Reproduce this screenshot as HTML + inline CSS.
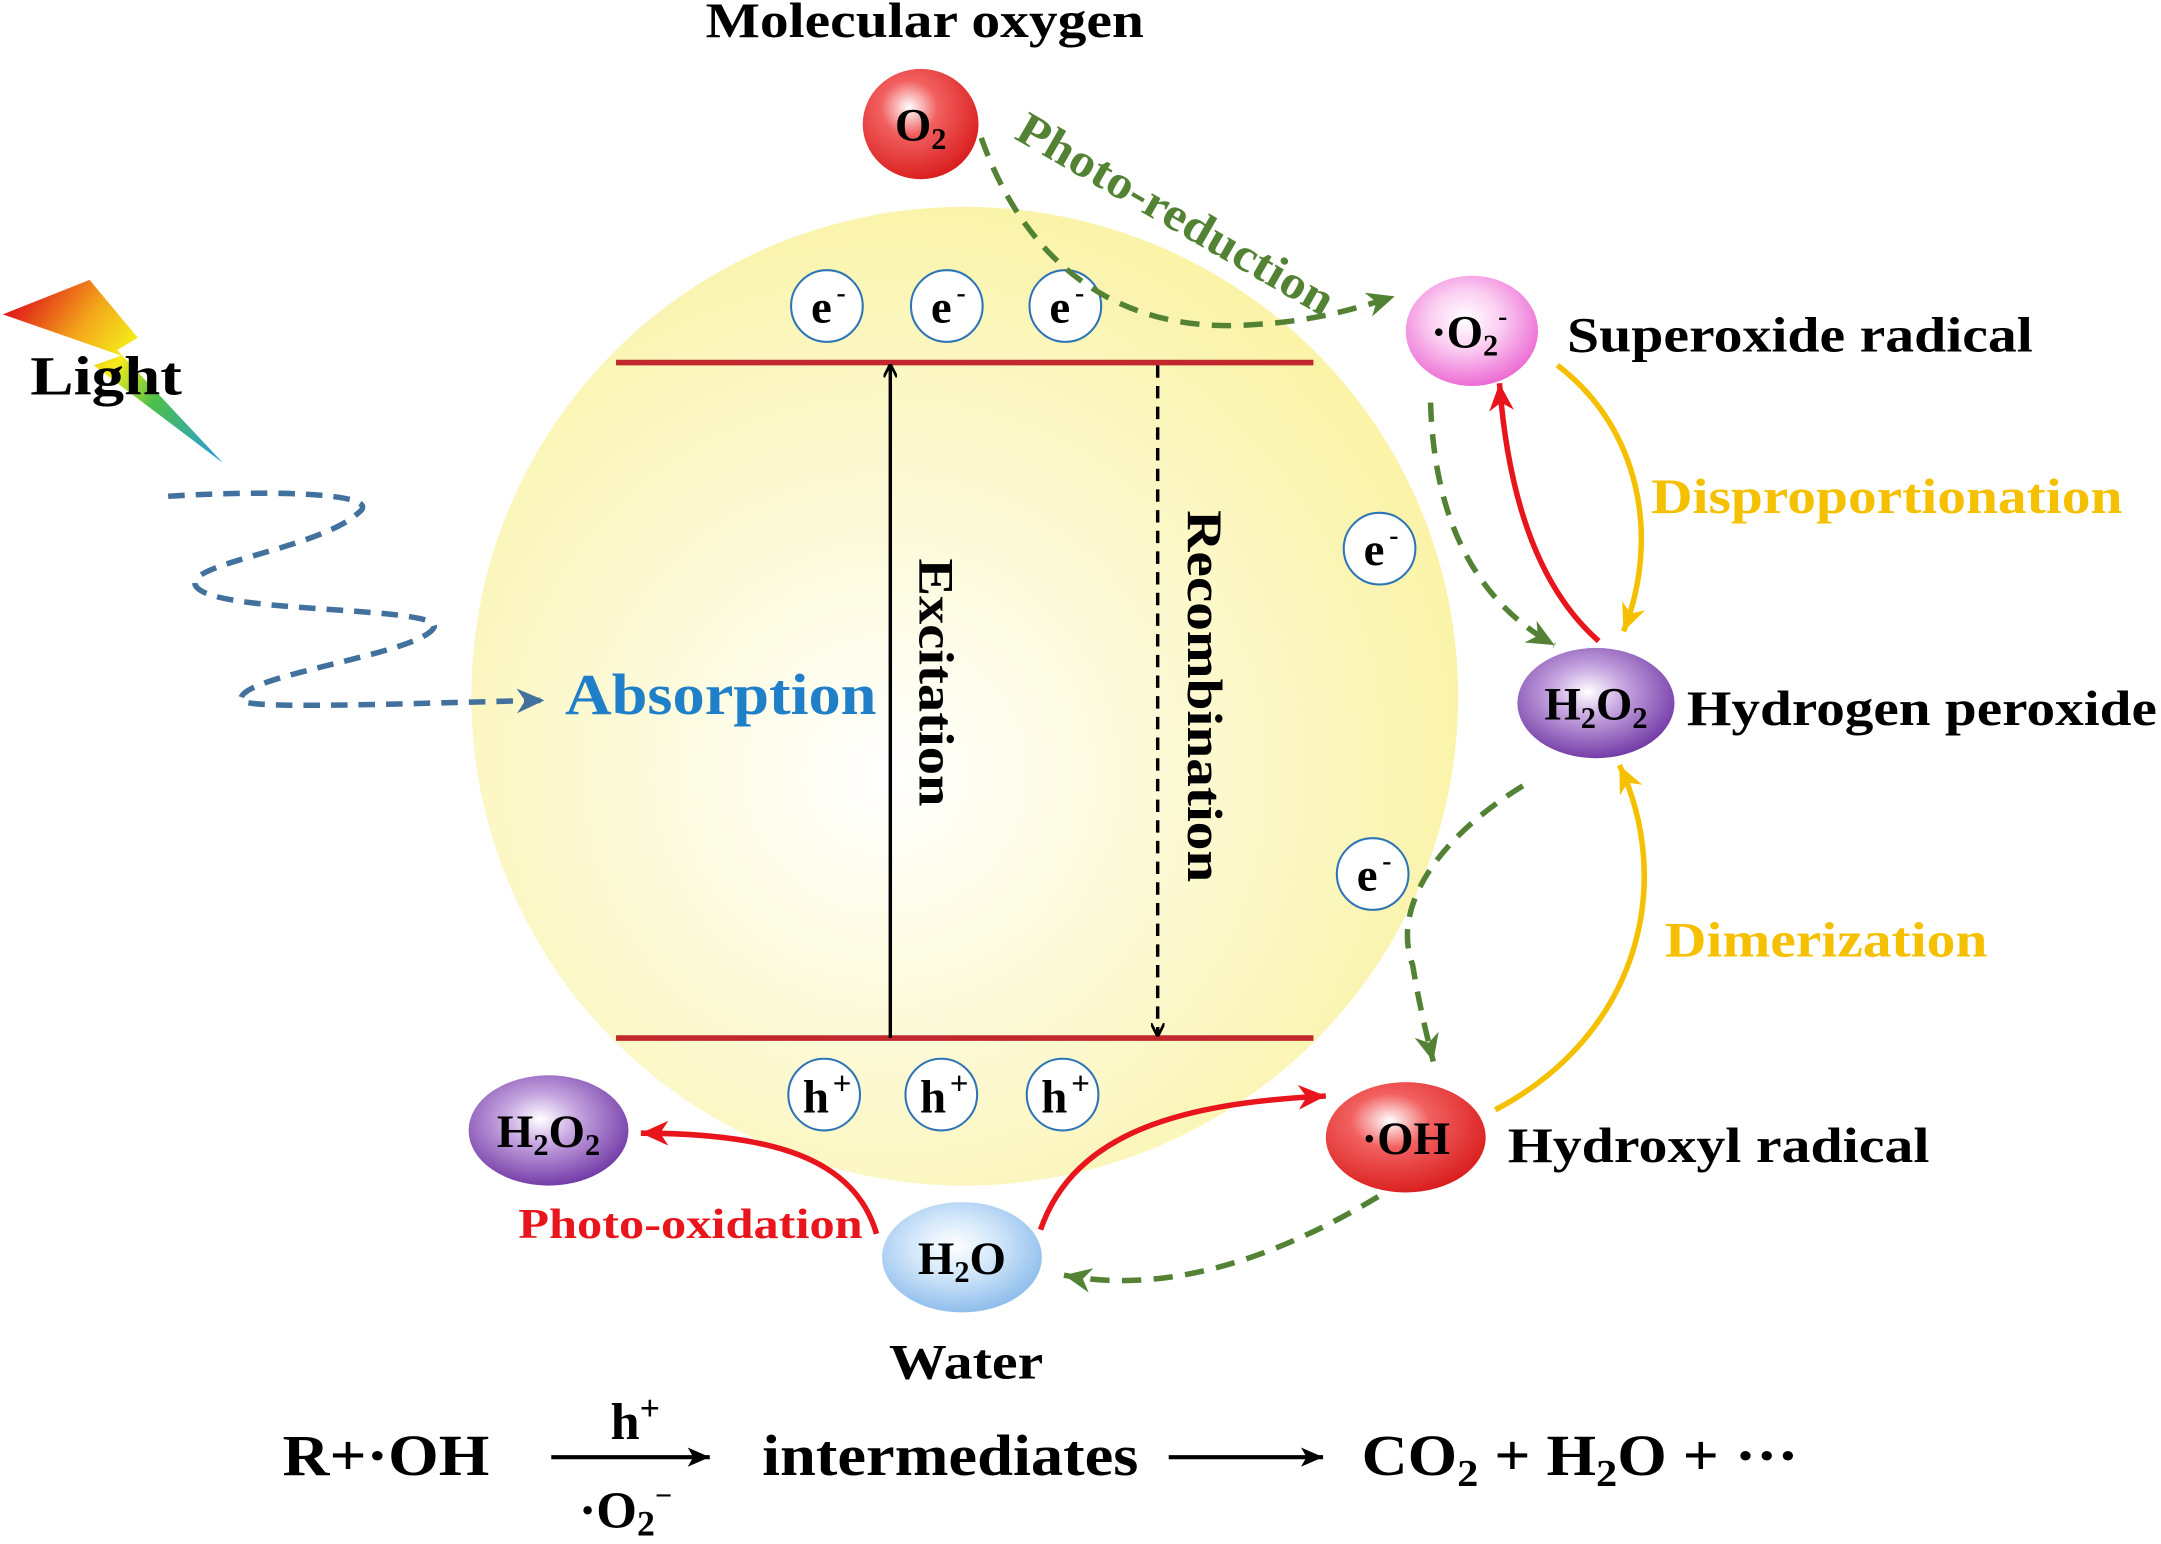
<!DOCTYPE html>
<html><head><meta charset="utf-8"><style>
html,body{margin:0;padding:0;background:#fff;}
svg{display:block;}
text{font-family:"Liberation Serif",serif;font-weight:bold;}
</style></head><body>
<svg width="2161" height="1544" viewBox="0 0 1568 1120" preserveAspectRatio="none">
<defs>
<radialGradient id="sun" cx="0.42" cy="0.58" r="0.6">
<stop offset="0" stop-color="#ffffff"/><stop offset="0.35" stop-color="#fdfbe0"/><stop offset="1" stop-color="#faf3a8"/></radialGradient>
<radialGradient id="red" cx="0.4" cy="0.35" r="0.7"><stop offset="0" stop-color="#fff"/><stop offset="0.35" stop-color="#f26060"/><stop offset="1" stop-color="#d81a1a"/></radialGradient>
<radialGradient id="pink" cx="0.45" cy="0.4" r="0.65"><stop offset="0" stop-color="#fff"/><stop offset="0.4" stop-color="#fbd0f2"/><stop offset="1" stop-color="#ea5fd0"/></radialGradient>
<radialGradient id="purple" cx="0.45" cy="0.4" r="0.65"><stop offset="0" stop-color="#fff"/><stop offset="0.35" stop-color="#c6a6e0"/><stop offset="1" stop-color="#6a2fa0"/></radialGradient>
<radialGradient id="blue" cx="0.45" cy="0.4" r="0.65"><stop offset="0" stop-color="#fff"/><stop offset="0.4" stop-color="#d4e8fa"/><stop offset="1" stop-color="#86b8ea"/></radialGradient>
<linearGradient id="rainbow" gradientUnits="userSpaceOnUse" x1="10" y1="225" x2="160" y2="335"><stop offset="0" stop-color="#e0201a"/><stop offset="0.25" stop-color="#f3a51a"/><stop offset="0.45" stop-color="#f5ec1a"/><stop offset="0.65" stop-color="#4dc04a"/><stop offset="1" stop-color="#2a9bdc"/></linearGradient>
<marker id="ak" markerWidth="10" markerHeight="10" refX="8" refY="5" orient="auto" markerUnits="userSpaceOnUse"><path d="M0,0 L10,5 L0,10" fill="none" stroke="#000" stroke-width="2"/></marker>
<marker id="ag" markerWidth="22" markerHeight="18" refX="20" refY="9" orient="auto" markerUnits="userSpaceOnUse"><path d="M0,0 L20,9 L0,18 L6,9z" fill="#548235"/></marker>
<marker id="ar" markerWidth="22" markerHeight="18" refX="20" refY="9" orient="auto" markerUnits="userSpaceOnUse"><path d="M0,0 L20,9 L0,18 L6,9z" fill="#e8161c"/></marker>
<marker id="ay" markerWidth="22" markerHeight="18" refX="20" refY="9" orient="auto" markerUnits="userSpaceOnUse"><path d="M0,0 L20,9 L0,18 L6,9z" fill="#f5c000"/></marker>
<marker id="ab" markerWidth="22" markerHeight="18" refX="20" refY="9" orient="auto" markerUnits="userSpaceOnUse"><path d="M0,0 L20,9 L0,18 L6,9z" fill="#41719c"/></marker>
<marker id="abk" markerWidth="18" markerHeight="14" refX="16" refY="7" orient="auto" markerUnits="userSpaceOnUse"><path d="M0,0 L16,7 L0,14 L4,7z" fill="#000"/></marker>
</defs>

<ellipse cx="700" cy="505" rx="358" ry="355" fill="url(#sun)"/>
<line x1="447" y1="263" x2="953" y2="263" stroke="#c0282d" stroke-width="4"/>
<line x1="447" y1="753" x2="953" y2="753" stroke="#c0282d" stroke-width="4"/>
<line x1="646" y1="753" x2="646" y2="266" stroke="#000" stroke-width="2.5" marker-end="url(#ak)"/>
<line x1="840" y1="265" x2="840" y2="750" stroke="#000" stroke-width="2.5" stroke-dasharray="9,6" marker-end="url(#ak)"/>
<text transform="translate(667,405) rotate(90)" font-size="36" textLength="180" lengthAdjust="spacingAndGlyphs">Excitation</text>
<text transform="translate(862,370) rotate(90)" font-size="36" textLength="270" lengthAdjust="spacingAndGlyphs">Recombination</text>

<g font-size="34">
<g><circle cx="600" cy="222" r="26" fill="#fff" stroke="#2e75b6" stroke-width="1.5"/><text x="596" y="234" text-anchor="middle">e</text><text x="607" y="219" font-size="20">-</text></g>
<g><circle cx="687" cy="222" r="26" fill="#fff" stroke="#2e75b6" stroke-width="1.5"/><text x="683" y="234" text-anchor="middle">e</text><text x="694" y="219" font-size="20">-</text></g>
<g><circle cx="773" cy="222" r="26" fill="#fff" stroke="#2e75b6" stroke-width="1.5"/><text x="769" y="234" text-anchor="middle">e</text><text x="780" y="219" font-size="20">-</text></g>
<g><circle cx="1001" cy="398" r="26" fill="#fff" stroke="#2e75b6" stroke-width="1.5"/><text x="997" y="410" text-anchor="middle">e</text><text x="1008" y="395" font-size="20">-</text></g>
<g><circle cx="996" cy="634" r="26" fill="#fff" stroke="#2e75b6" stroke-width="1.5"/><text x="992" y="646" text-anchor="middle">e</text><text x="1003" y="631" font-size="20">-</text></g>
</g>
<g font-size="34">
<g><circle cx="598" cy="794" r="26" fill="#fff" stroke="#2e75b6" stroke-width="1.5"/><text x="592" y="807" text-anchor="middle">h</text><text x="611" y="794" font-size="24" text-anchor="middle">+</text></g>
<g><circle cx="683" cy="794" r="26" fill="#fff" stroke="#2e75b6" stroke-width="1.5"/><text x="677" y="807" text-anchor="middle">h</text><text x="696" y="794" font-size="24" text-anchor="middle">+</text></g>
<g><circle cx="771" cy="794" r="26" fill="#fff" stroke="#2e75b6" stroke-width="1.5"/><text x="765" y="807" text-anchor="middle">h</text><text x="784" y="794" font-size="24" text-anchor="middle">+</text></g>
</g>

<!-- light -->
<path d="M2,228 L65,203 L100,245 L85,254 L162,336 L68,265 L88,258 Z" fill="url(#rainbow)"/>
<text x="22" y="286" font-size="40" textLength="110" lengthAdjust="spacingAndGlyphs">Light</text>
<path d="M122,360 C200,355 280,358 260,372 C230,400 120,410 145,428 C170,445 320,440 315,455 C305,475 170,490 175,508 C180,515 300,510 395,508" fill="none" stroke="#41719c" stroke-width="4" stroke-dasharray="12,8" marker-end="url(#ab)"/>
<text x="410" y="518" font-size="42" fill="#1f7fc8" textLength="226" lengthAdjust="spacingAndGlyphs">Absorption</text>

<!-- species -->
<g><ellipse cx="668" cy="90" rx="42" ry="40" fill="url(#red)"/><text x="668" y="102" text-anchor="middle" font-size="34">O<tspan font-size="22" dy="6">2</tspan></text></g>
<text x="512" y="27" font-size="36" textLength="318" lengthAdjust="spacingAndGlyphs">Molecular oxygen</text>
<g><ellipse cx="1068" cy="240" rx="48" ry="40" fill="url(#pink)"/><text x="1066" y="252" text-anchor="middle" font-size="34">·O<tspan font-size="22" dy="6">2</tspan><tspan font-size="20" dy="-22">-</tspan></text></g>
<text x="1137" y="255" font-size="36" textLength="338" lengthAdjust="spacingAndGlyphs">Superoxide radical</text>
<g><ellipse cx="1158" cy="510" rx="57" ry="40" fill="url(#purple)"/><text x="1158" y="522" text-anchor="middle" font-size="34">H<tspan font-size="22" dy="6">2</tspan><tspan dy="-6">O</tspan><tspan font-size="22" dy="6">2</tspan></text></g>
<text x="1224" y="526" font-size="36" textLength="341" lengthAdjust="spacingAndGlyphs">Hydrogen peroxide</text>
<g><ellipse cx="1020" cy="825" rx="58" ry="40" fill="url(#red)"/><text x="1020" y="837" text-anchor="middle" font-size="34">·OH</text></g>
<text x="1094" y="843" font-size="36" textLength="306" lengthAdjust="spacingAndGlyphs">Hydroxyl radical</text>
<g><ellipse cx="698" cy="912" rx="58" ry="40" fill="url(#blue)"/><text x="698" y="924" text-anchor="middle" font-size="34">H<tspan font-size="22" dy="6">2</tspan><tspan dy="-6">O</tspan></text></g>
<text x="645" y="1000" font-size="36" textLength="112" lengthAdjust="spacingAndGlyphs">Water</text>
<g><ellipse cx="398" cy="820" rx="58" ry="40" fill="url(#purple)"/><text x="398" y="832" text-anchor="middle" font-size="34">H<tspan font-size="22" dy="6">2</tspan><tspan dy="-6">O</tspan><tspan font-size="22" dy="6">2</tspan></text></g>

<!-- arrows -->
<path d="M712,100 C740,180 800,240 900,236 C950,234 980,225 1012,215" fill="none" stroke="#548235" stroke-width="4" stroke-dasharray="14,9" marker-end="url(#ag)"/>
<text transform="translate(735,100) rotate(30)" font-size="34" fill="#548235" textLength="260" lengthAdjust="spacingAndGlyphs">Photo-reduction</text>
<path d="M1038,292 C1040,360 1060,430 1128,468" fill="none" stroke="#548235" stroke-width="4" stroke-dasharray="14,9" marker-end="url(#ag)"/>
<path d="M1160,465 C1120,430 1095,370 1088,278" fill="none" stroke="#e8161c" stroke-width="4" marker-end="url(#ar)"/>
<path d="M1130,265 C1190,310 1205,390 1178,458" fill="none" stroke="#f5c000" stroke-width="4" marker-end="url(#ay)"/>
<text x="1198" y="372" font-size="36" fill="#f5c000" textLength="342" lengthAdjust="spacingAndGlyphs">Disproportionation</text>
<path d="M1105,570 C1040,610 1010,660 1025,700 C1030,730 1035,750 1040,770" fill="none" stroke="#548235" stroke-width="4" stroke-dasharray="14,9" marker-end="url(#ag)"/>
<path d="M1085,805 C1190,750 1215,640 1175,555" fill="none" stroke="#f5c000" stroke-width="4" marker-end="url(#ay)"/>
<text x="1208" y="694" font-size="36" fill="#f5c000" textLength="234" lengthAdjust="spacingAndGlyphs">Dimerization</text>
<path d="M755,892 C780,820 860,800 962,795" fill="none" stroke="#e8161c" stroke-width="4" marker-end="url(#ar)"/>
<path d="M1000,868 C930,910 850,940 772,925" fill="none" stroke="#548235" stroke-width="4" stroke-dasharray="14,9" marker-end="url(#ag)"/>
<path d="M636,895 C620,840 560,822 465,822" fill="none" stroke="#e8161c" stroke-width="4" marker-end="url(#ar)"/>
<text x="376" y="898" font-size="31" fill="#e8161c" textLength="250" lengthAdjust="spacingAndGlyphs">Photo-oxidation</text>

<!-- equation -->
<g font-size="42">
<text x="205" y="1070" textLength="150" lengthAdjust="spacingAndGlyphs">R+·OH</text>
<line x1="400" y1="1057" x2="515" y2="1057" stroke="#000" stroke-width="3" marker-end="url(#abk)"/>
<text x="443" y="1044" font-size="38">h<tspan font-size="26" dy="-14">+</tspan></text>
<text x="420" y="1108" font-size="38">·O<tspan font-size="26" dy="6">2</tspan><tspan font-size="22" dy="-22">−</tspan></text>
<text x="553" y="1070" textLength="273" lengthAdjust="spacingAndGlyphs">intermediates</text>
<line x1="848" y1="1057" x2="960" y2="1057" stroke="#000" stroke-width="3" marker-end="url(#abk)"/>
<text x="988" y="1070" textLength="317" lengthAdjust="spacingAndGlyphs">CO<tspan font-size="28" dy="8">2</tspan><tspan dy="-8"> + H</tspan><tspan font-size="28" dy="8">2</tspan><tspan dy="-8">O + ···</tspan></text>
</g>
</svg>
</body></html>
